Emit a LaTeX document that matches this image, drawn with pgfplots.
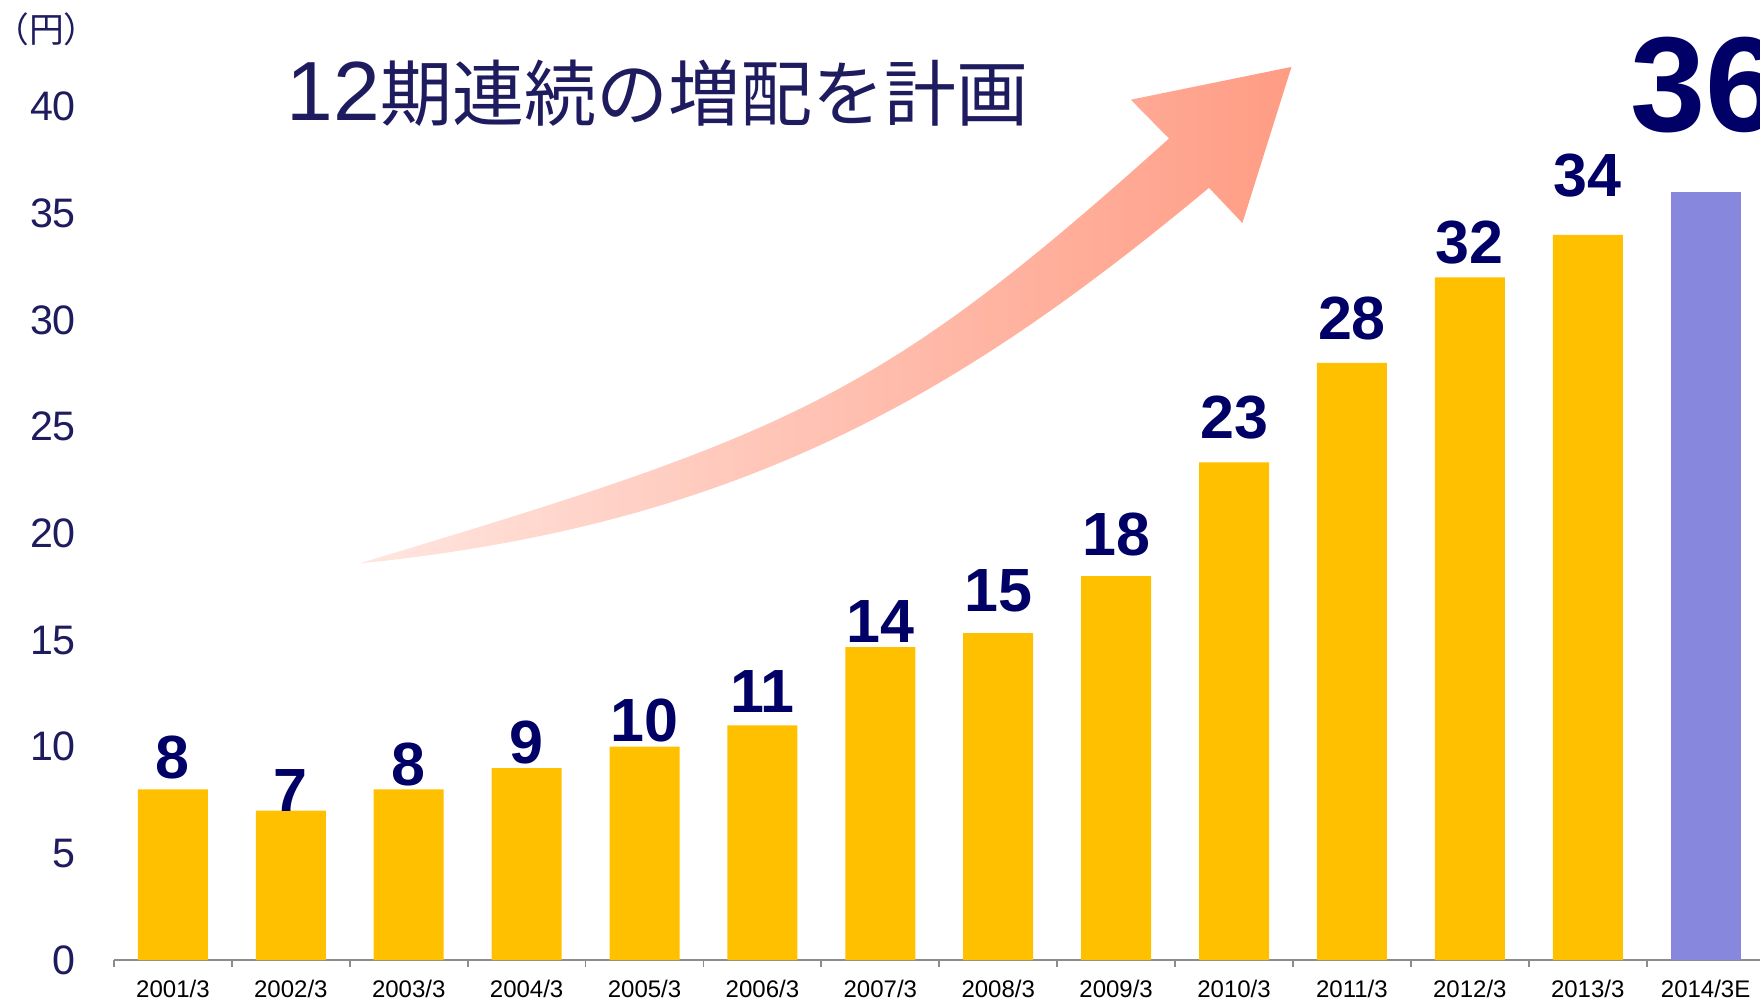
\documentclass[border=0pt]{standalone}
\usepackage{pgfplots}
\pgfplotsset{compat=1.18}
\usepackage{pgfplotstable}
\usepackage{fontspec}
\setmainfont{Liberation Sans}
\newfontfamily\cjk{Noto Sans CJK JP}

\definecolor{baryellow}{RGB}{255,192,0}
\definecolor{barpurple}{RGB}{135,135,222}
\definecolor{labelnavy}{RGB}{0,0,102}
\definecolor{ticknavy}{RGB}{30,27,95}
\definecolor{axisgray}{RGB}{140,140,140}
\definecolor{arrowlight}{RGB}{255,230,224}
\definecolor{arrowdark}{RGB}{255,156,132}

% label positions (baseline)
\pgfplotstableread{
x y label
0 8.53 8
1 6.98 7
2 8.2 8
3 9.22 9
4 10.23 10
5 11.6 11
6 14.89 14
7 16.33 15
8 18.98 18
9 24.45 23
10 29.1 28
11 32.66 32
12 35.78 34
}\labeltab

\begin{document}
\begin{tikzpicture}
% arrow and titles, in pixel coordinates of the reference
\begin{scope}[shift={(-28.5pt,240pt)}, x=0.25pt, y=-0.25pt]
  \shade[left color=arrowlight, right color=arrowdark]
    (359,563.5) .. controls (790,434) and (879,399.5) .. (1169,138.5)
    -- (1130.8,99.7) -- (1291.5,66.9) -- (1242.4,223) -- (1209,187.8)
    .. controls (960,395) and (740,525) .. (359,563.5) -- cycle;
  \node[anchor=base west, inner sep=0pt, text=ticknavy, font=\fontsize{21}{21}\selectfont] at (286,120) {12{\cjk\fontsize{18}{18}\selectfont 期連続の増配を計画}};
  \node[anchor=center, inner sep=0pt, text=ticknavy, font=\cjk\fontsize{8.7}{8.7}\selectfont] at (46.5,29) {（円）};
\end{scope}

\begin{axis}[
  at={(0,0)}, anchor=south west,
  scale only axis, width=412.65pt, height=213.3pt,
  xmin=-0.5, xmax=13.5, ymin=0, ymax=40,
  clip=false,
  axis lines*=left,
  x axis line style={draw=axisgray, line width=0.45pt},
  y axis line style={draw=none},
  tick style={draw=none},
  xtick={0,...,13},
  xticklabels={2001/3,2002/3,2003/3,2004/3,2005/3,2006/3,2007/3,2008/3,2009/3,2010/3,2011/3,2012/3,2013/3,2014/3E},
  extra x ticks={-0.5,0.5,...,13.5},
  extra x tick labels={},
  extra x tick style={tick align=outside, major tick length=1.75pt, tick style={draw=axisgray, line width=0.45pt}},
  ytick={0,5,...,40},
  /pgf/number format/assume math mode=true,
  yticklabel style={font=\fontsize{10.3}{12}\selectfont, text=ticknavy, xshift=-6pt},
  xticklabel style={font=\fontsize{6}{7}\selectfont, text=black, yshift=-1.5pt},
]
\addplot[ybar, bar width=17.5pt, bar shift=0pt, fill=baryellow, draw=none] coordinates {
  (0,8) (1,7) (2,8) (3,9) (4,10) (5,11) (6,14.67) (7,15.33) (8,18) (9,23.33) (10,28) (11,32) (12,34)
};
\addplot[ybar, bar width=17.5pt, bar shift=0pt, fill=barpurple, draw=none] coordinates {(13,36)};
\addplot[only marks, mark=*, mark size=0pt, mark options={draw=none, fill=none},
  nodes near coords, point meta=explicit symbolic,
  every node near coord/.append style={anchor=base, inner sep=0pt, text=labelnavy, font=\bfseries\fontsize{15.25}{16}\selectfont}]
  table[x=x, y=y, meta=label] {\labeltab};
\addplot[only marks, mark=*, mark size=0pt, mark options={draw=none, fill=none},
  nodes near coords, point meta=explicit symbolic,
  every node near coord/.append style={anchor=base, inner sep=0pt, text=labelnavy, font=\bfseries\fontsize{33.8}{34}\selectfont}]
  coordinates {(13,38.83) [36]};
\end{axis}
\pgfresetboundingbox
\path[use as bounding box] (-28.5pt,-10.25pt) rectangle (411.5pt,240pt);
\end{tikzpicture}
\end{document}
